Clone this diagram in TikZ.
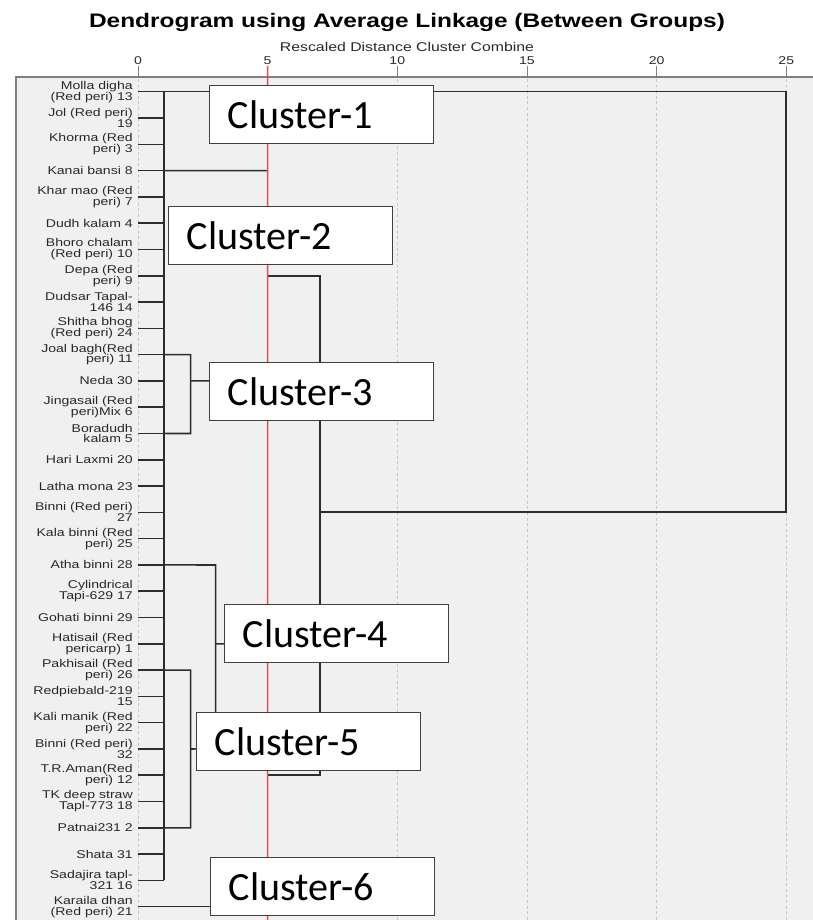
\documentclass[tikz,border=0pt]{standalone}
\usepackage{fontspec}
\usepackage{tikz}
\usetikzlibrary{positioning,backgrounds}
\newfontfamily\spssfont[FakeStretch=1.25]{Liberation Sans}
\newfontfamily\calfont{Carlito}
\definecolor{plotbg}{RGB}{240,240,240}
\definecolor{frameedge}{RGB}{128,128,128}
\definecolor{treeink}{RGB}{45,45,45}
\definecolor{cutred}{RGB}{222,80,80}
\definecolor{gridgray}{RGB}{196,196,196}
\definecolor{leaftext}{RGB}{40,40,40}

\begin{document}
\begin{tikzpicture}[
  x=0.025cm, y=-0.025cm,
  leaf/.style    ={anchor=east, align=right, inner sep=0pt, text=leaftext,
                   font=\spssfont\fontsize{8}{7.8}\selectfont},
  ticklab/.style ={inner sep=0pt, text=leaftext, font=\spssfont\fontsize{8}{9}\selectfont},
  treeln/.style  ={draw=treeink, line width=1.1pt},
  gridline/.style={draw=gridgray, line width=0.6pt, dash pattern=on 2pt off 2pt},
  cutline/.style ={draw=cutred, line width=1pt},
  cluster/.style ={anchor=north west, draw=black!75, line width=1pt, fill=white,
                   text width=4.7cm, inner xsep=0.45cm, minimum height=1.45cm,
                   align=left, font=\calfont\fontsize{28.5}{30}\selectfont},
]
\useasboundingbox (0,0) rectangle (813,920);

\node[font=\spssfont\bfseries\fontsize{13.9}{16}\selectfont] (title) at (407,22)
  {Dendrogram using Average Linkage (Between Groups)};
\node[inner sep=0pt, font=\spssfont\fontsize{9}{10}\selectfont, text=leaftext] (subtitle) at (407,47)
  {Rescaled Distance Cluster Combine};

\foreach \v in {0,5,...,25}
  \node[ticklab] (t\v) at ({138+25.93*\v},61) {\v};

% leaves, top to bottom
\foreach \i/\txt in {0/{Molla digha\\(Red peri) 13}, 1/{Jol (Red peri)\\19},
    2/{Khorma (Red\\peri) 3}, 3/{Kanai bansi 8}, 4/{Khar mao (Red\\peri) 7},
    5/{Dudh kalam 4}, 6/{Bhoro chalam\\(Red peri) 10}, 7/{Depa (Red\\peri) 9},
    8/{Dudsar Tapal-\\146 14}, 9/{Shitha bhog\\(Red peri) 24},
    10/{Joal bagh(Red\\peri) 11}, 11/{Neda 30}, 12/{Jingasail (Red\\peri)Mix 6},
    13/{Boradudh\\kalam 5}, 14/{Hari Laxmi 20}, 15/{Latha mona 23},
    16/{Binni (Red peri)\\27}, 17/{Kala binni (Red\\peri) 25}, 18/{Atha binni 28},
    19/{Cylindrical\\Tapi-629 17}, 20/{Gohati binni 29}, 21/{Hatisail (Red\\pericarp) 1},
    22/{Pakhisail (Red\\peri) 26}, 23/{Redpiebald-219\\15}, 24/{Kali manik (Red\\peri) 22},
    25/{Binni (Red peri)\\32}, 26/{T.R.Aman(Red\\peri) 12}, 27/{TK deep straw\\Tapl-773 18},
    28/{Patnai231 2}, 29/{Shata 31}, 30/{Sadajira tapl-\\321 16},
    31/{Karaila dhan\\(Red peri) 21}}
  \node[leaf] (leaf\i) at (133,{91.7+26.29*\i}) {\txt};

\node[cluster] (c1) at (209,85)  {Cluster-1};
\node[cluster] (c2) at (168,206) {Cluster-2};
\node[cluster] (c3) at (209,362) {Cluster-3};
\node[cluster] (c4) at (224,604) {Cluster-4};
\node[cluster] (c5) at (196,712) {Cluster-5};
\node[cluster] (c6) at (210,857) {Cluster-6};

\begin{pgfonlayer}{background}
  \fill[plotbg] (16,77) rectangle (813,920);
  \draw[frameedge, line width=0.8pt] (813,77) -- (16,77) -- (16,920);
  \foreach \v in {0,5,...,25}
    \draw[frameedge, line width=0.6pt] (t\v.south) ++(0,1) -- ({138+25.93*\v},77);
  \foreach \v in {0,10,15,20,25}
    \draw[gridline] ({138+25.93*\v},79) -- ({138+25.93*\v},920);

  \foreach \i in {0,...,31}
    \draw[treeln] (leaf\i.east) ++(5,0) -- ++(26,0);
  \draw[treeln] (leaf0.east) ++(31,0) coordinate (trunk) -- (trunk |- leaf30);
  \draw[treeln] (trunk) -- (786,91.7) -- (786,512) -- (320,512);
  \draw[treeln] (trunk |- leaf3) -- (268,170.6);
  \draw[treeln] (268,276) -- (320,276) -- (320,775) -- (268,775);
  % cluster-3
  \draw[treeln] (trunk |- leaf10) -- (190.7,354.6) -- (190.7,433.5) -- (trunk |- leaf13);
  \draw[treeln] (190.7,380.9) -- (c3.west |- leaf11);
  % cluster-4
  \draw[treeln] (trunk |- leaf18) -- (215.7,565) -- (215.7,713);
  \draw[treeln] (215.7,643.8) -- (c4.west |- leaf21);
  % cluster-5
  \draw[treeln] (trunk |- leaf22) -- (190.7,670.1) -- (190.7,827.8) -- (trunk |- leaf28);
  \draw[treeln] (190.7,749) -- (c5.west |- leaf25);
  % cluster-6
  \draw[treeln] (trunk |- leaf31) -- (c6.west |- leaf31);

  \draw[cutline] (t5.south) ++(0,1) -- (267.6,920);
\end{pgfonlayer}

\end{tikzpicture}
\end{document}
